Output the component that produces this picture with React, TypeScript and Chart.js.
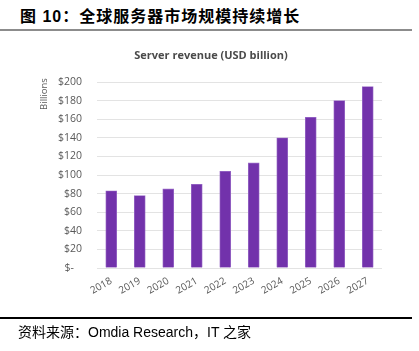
import React, { useEffect, useRef } from "react";
import { Chart, registerables } from "chart.js";

Chart.register(...registerables);

const years = ["2018", "2019", "2020", "2021", "2022", "2023", "2024", "2025", "2026", "2027"];
const revenue = [83, 78, 85, 90, 104, 113, 140, 162, 180, 195];
const yTicks = [0, 20, 40, 60, 80, 100, 120, 140, 160, 180, 200];

const figureTitle = "图 10：全球服务器市场规模持续增长";
const chartTitle = "Server revenue (USD billion)";
const unitLabel = "Billions";
const sourceText = "资料来源：Omdia Research，IT 之家";

const labelPlugin = {
  id: "extraLabels",
  afterDraw(chart: any) {
    const ctx = chart.ctx;
    ctx.save();
    ctx.fillStyle = "#4a4a4a";
    ctx.font = "bold 11px 'Open Sans'";
    ctx.textAlign = "center";
    ctx.textBaseline = "middle";
    ctx.fillText(chartTitle, 211, 56);
    ctx.fillStyle = "#595959";
    ctx.translate(44, 94);
    ctx.rotate(-Math.PI / 2);
    ctx.font = "9.5px 'Open Sans'";
    ctx.fillText(unitLabel, 0, 0);
    ctx.restore();
  },
};

export default function App() {
  const ref = useRef<HTMLCanvasElement>(null);
  useEffect(() => {
    if (!ref.current) return;
    const chart = new Chart(ref.current, {
      type: "bar",
      data: {
        labels: years,
        datasets: [
          {
            data: revenue,
            backgroundColor: "#7232AB",
            borderColor: "#9a6cc8",
            borderWidth: 0.8,
            barThickness: 11,
          },
        ],
      },
      options: {
        responsive: false,
        animation: false,
        layout: { padding: { left: 0, right: 37, top: 82, bottom: 0 } },
        plugins: { legend: { display: false }, tooltip: { enabled: false }, title: { display: false } },
        scales: {
          x: {
            grid: { display: false, drawTicks: false },
            border: { display: false },
            ticks: {
              autoSkip: false,
              minRotation: 30,
              maxRotation: 30,
              padding: 7,
              color: "#595959",
              font: { family: "'Open Sans'", size: 10 },
            },
            afterFit(scale: any) {
              scale.height = 83;
            },
          },
          y: {
            min: 0,
            max: 200,
            afterBuildTicks(scale: any) {
              scale.ticks = yTicks.map((v) => ({ value: v }));
            },
            grid: { color: "#e3e3e3", lineWidth: 1, drawTicks: false },
            border: { display: false },
            ticks: {
              padding: 15,
              color: "#595959",
              font: { family: "'Open Sans'", size: 10.5 },
              callback: (v: any) => (Number(v) === 0 ? "$-   " : "$" + v),
            },
            afterFit(scale: any) {
              scale.width = 97;
            },
          },
        },
      },
      plugins: [labelPlugin],
    });
    return () => chart.destroy();
  }, []);

  return (
    <div style={{ position: "fixed", left: 0, top: 0, width: 419, height: 351, background: "#fff", overflow: "hidden" }}>
      <div
        style={{
          position: "absolute",
          left: 20,
          top: 7,
          fontFamily: "'Liberation Sans', 'Noto Sans CJK SC', sans-serif",
          fontWeight: "bold",
          fontSize: 16,
          letterSpacing: 1,
          lineHeight: "20px",
          color: "#000",
          whiteSpace: "nowrap",
        }}
      >
        {figureTitle}
      </div>
      <div style={{ position: "absolute", left: 0, top: 29, width: 412, height: 2, background: "#8c8c8c" }} />
      <canvas ref={ref} width={419} height={351} style={{ position: "absolute", left: 0, top: 0 }} />
      <div style={{ position: "absolute", left: 0, top: 317, width: 412, height: 1.5, background: "#000" }} />
      <div
        style={{
          position: "absolute",
          left: 18,
          top: 323,
          fontFamily: "'Liberation Sans', 'Noto Sans CJK SC', sans-serif",
          fontSize: 14,
          lineHeight: "18px",
          color: "#000",
          whiteSpace: "nowrap",
        }}
      >
        {sourceText}
      </div>
    </div>
  );
}
